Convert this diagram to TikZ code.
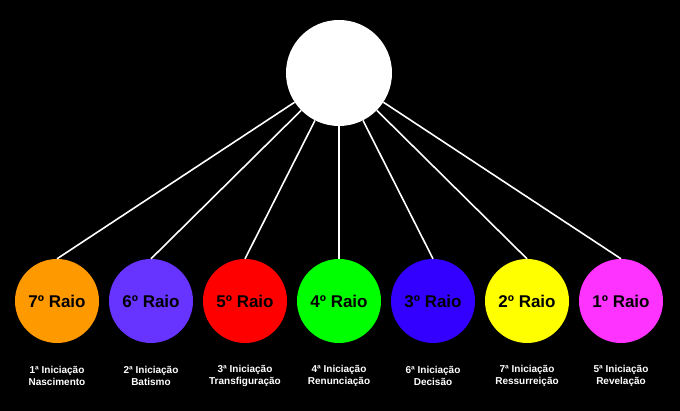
\documentclass[tikz,border=0pt]{standalone}
\usepackage{fontspec}
\setmainfont{Liberation Sans}
\begin{document}
\begin{tikzpicture}[x=1pt,y=1pt,
  ray/.style={circle,minimum size=84pt,inner sep=0pt,font=\bfseries\fontsize{17}{19}\selectfont},
  lbl/.style={text=white,align=center,font=\bfseries\fontsize{10}{12}\selectfont},
  link/.style={white,line width=1.6pt}]
\fill[black] (0,0) rectangle (680,411);
\useasboundingbox (0,0) rectangle (680,411);
\node[circle,fill=white,minimum size=106pt,inner sep=0pt] (top) at (339,338) {};
\foreach \i/\c/\t/\a/\b [count=\k from 0] in {
  7/{rgb,255:red,255;green,153;blue,0}/7/1/Nascimento,
  6/{rgb,255:red,102;green,51;blue,255}/6/2/Batismo,
  5/{rgb,255:red,255;green,0;blue,0}/5/3/Transfiguração,
  4/{rgb,255:red,0;green,255;blue,0}/4/4/Renunciação,
  3/{rgb,255:red,51;green,0;blue,255}/3/6/Decisão,
  2/{rgb,255:red,255;green,255;blue,0}/2/7/Ressurreição,
  1/{rgb,255:red,255;green,51;blue,255}/1/5/Revelação}{
  \node[ray,fill={\c}] (r\i) at (57+94*\k,110) {\t º Raio};
  \node[lbl] (l\i) at (57+94*\k,35) {\a ª Iniciação\\\b};
  \draw[link] (top) -- (r\i.north);
}
\end{tikzpicture}
\end{document}
